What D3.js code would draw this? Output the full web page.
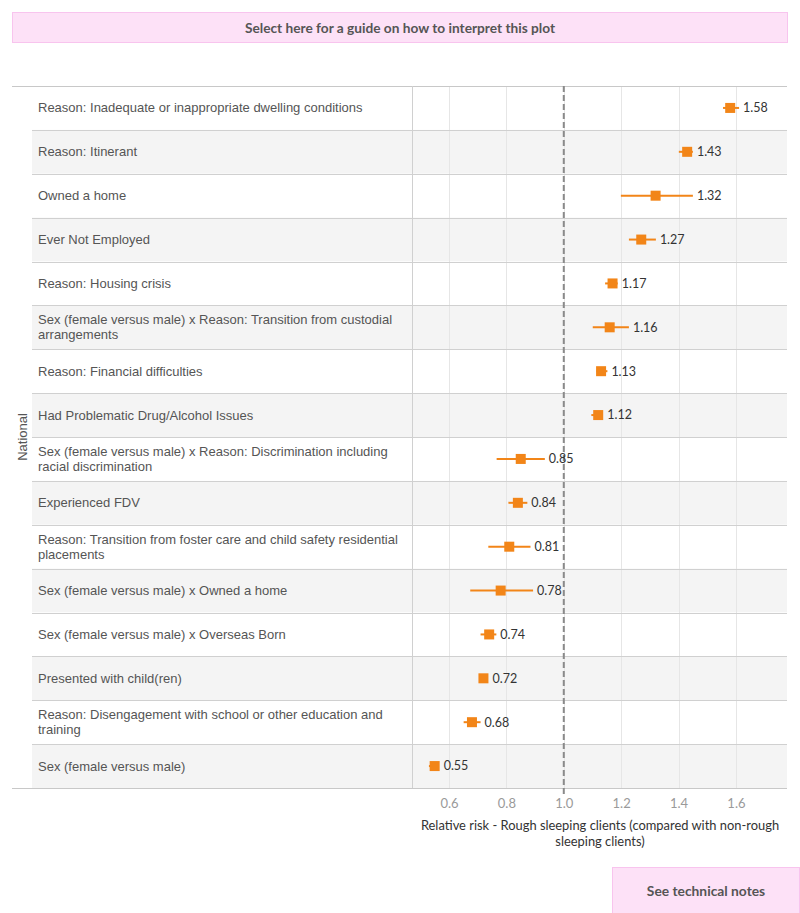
<!DOCTYPE html>
<html>
<head>
<meta charset="utf-8">
<script src="https://cdn.jsdelivr.net/npm/d3@7"></script>
<style>
  body { margin: 0; background: #fff; }
  svg { display: block; }
</style>
</head>
<body>
<svg class="chart"></svg>
<script>
const svgWidth = 800;
const svgHeight = 913;

// data, top row first
const categories = [
  "Reason: Inadequate or inappropriate dwelling conditions",
  "Reason: Itinerant",
  "Owned a home",
  "Ever Not Employed",
  "Reason: Housing crisis",
  "Sex (female versus male) x Reason: Transition from custodial arrangements",
  "Reason: Financial difficulties",
  "Had Problematic Drug/Alcohol Issues",
  "Sex (female versus male) x Reason: Discrimination including racial discrimination",
  "Experienced FDV",
  "Reason: Transition from foster care and child safety residential placements",
  "Sex (female versus male) x Owned a home",
  "Sex (female versus male) x Overseas Born",
  "Presented with child(ren)",
  "Reason: Disengagement with school or other education and training",
  "Sex (female versus male)"
];
const relRisk = [1.58, 1.43, 1.32, 1.27, 1.17, 1.16, 1.13, 1.12, 0.85, 0.84, 0.81, 0.78, 0.74, 0.72, 0.68, 0.55];
const ciLower = [1.555, 1.401, 1.199, 1.227, 1.144, 1.101, 1.114, 1.096, 0.766, 0.807, 0.737, 0.674, 0.710, 0.714, 0.651, 0.530];
const ciUpper = [1.611, 1.450, 1.450, 1.321, 1.188, 1.227, 1.152, 1.134, 0.934, 0.873, 0.884, 0.893, 0.765, 0.722, 0.710, 0.552];
const tickValues = [0.6, 0.8, 1.0, 1.2, 1.4, 1.6];
const groupLabel = "National";

const data = categories.map(function(c, i) {
  return { name: c, value: relRisk[i], lo: ciLower[i], hi: ciUpper[i] };
});

var margin = { top: 86, bottom: 788, left: 12, rowLeft: 32, pane: 412, right: 787 };
var orange = "#f28518";

const svg = d3.select(".chart")
  .attr("width", svgWidth)
  .attr("height", svgHeight);

// guide button at top
svg.append("rect")
  .attr("x", 12.5).attr("y", 12.5)
  .attr("width", 775).attr("height", 30)
  .attr("fill", "#fde1f7")
  .attr("stroke", "#f8c4ee");
svg.append("text")
  .attr("x", 400).attr("y", 28)
  .attr("dy", "0.35em")
  .attr("text-anchor", "middle")
  .style("font-family", "Lato")
  .style("font-weight", "bold")
  .style("font-size", "13.7px")
  .attr("fill", "#555")
  .text("Select here for a guide on how to interpret this plot");

var y = d3.scaleBand()
  .domain(categories)
  .range([margin.top, margin.bottom]);

var x = d3.scaleLinear()
  .domain([0.471, 1.778])
  .range([margin.pane, margin.right]);

// row shading
svg.append("g")
  .selectAll("rect")
  .data(data)
  .join("rect")
    .attr("x", margin.rowLeft)
    .attr("y", function(d) { return y(d.name); })
    .attr("width", margin.right - margin.rowLeft)
    .attr("height", y.bandwidth())
    .attr("fill", function(d, i) { return i % 2 ? "#f4f4f4" : "#fff"; });

// vertical gridlines
svg.append("g")
  .selectAll("line")
  .data(tickValues)
  .join("line")
    .attr("x1", function(d) { return Math.round(x(d)) + 0.5; })
    .attr("x2", function(d) { return Math.round(x(d)) + 0.5; })
    .attr("y1", margin.top)
    .attr("y2", margin.bottom)
    .attr("stroke", "#e6e6e6");

// row separators
svg.append("g")
  .selectAll("line")
  .data(data.slice(1))
  .join("line")
    .attr("x1", margin.rowLeft)
    .attr("x2", margin.right)
    .attr("y1", function(d) { return Math.round(y(d.name)) + 0.5; })
    .attr("y2", function(d) { return Math.round(y(d.name)) + 0.5; })
    .attr("stroke", "#d0d0d0");

// top and bottom borders
[margin.top, margin.bottom].forEach(function(v) {
  svg.append("line")
    .attr("x1", margin.left).attr("x2", margin.right)
    .attr("y1", v + 0.5).attr("y2", v + 0.5)
    .attr("stroke", "#c8c8c8");
});

// divider between labels and pane
svg.append("line")
  .attr("x1", margin.pane + 0.5).attr("x2", margin.pane + 0.5)
  .attr("y1", margin.top).attr("y2", margin.bottom)
  .attr("stroke", "#d0d0d0");

// reference line at 1.0
svg.append("line")
  .attr("x1", x(1)).attr("x2", x(1))
  .attr("y1", margin.top).attr("y2", margin.bottom + 6)
  .attr("stroke", "#8a8a8a")
  .attr("stroke-width", 2)
  .attr("stroke-dasharray", "6,3");

// row labels, wrapped
var labels = svg.append("g")
  .selectAll("text")
  .data(data)
  .join("text")
    .attr("x", 38)
    .style("font-family", "'Liberation Sans', Arial, sans-serif")
    .style("font-size", "13px")
    .attr("fill", "#555");

labels.each(function(d) {
  var t = d3.select(this);
  var words = d.name.split(" ");
  var lines = [];
  var line = [];
  var tspan = t.append("tspan");
  words.forEach(function(w) {
    line.push(w);
    tspan.text(line.join(" "));
    if (tspan.node().getComputedTextLength() > 368 && line.length > 1) {
      line.pop();
      lines.push(line.join(" "));
      line = [w];
    }
  });
  lines.push(line.join(" "));
  tspan.remove();
  var cy = y(d.name) + y.bandwidth() / 2;
  var lh = 15;
  lines.forEach(function(l, i) {
    t.append("tspan")
      .attr("x", 38)
      .attr("y", cy + (i - (lines.length - 1) / 2) * lh)
      .attr("dy", "0.35em")
      .text(l);
  });
});

// group header
svg.append("text")
  .attr("transform", "translate(22," + ((margin.top + margin.bottom) / 2) + ") rotate(-90)")
  .attr("text-anchor", "middle")
  .attr("dy", "0.35em")
  .style("font-family", "'Liberation Sans', Arial, sans-serif")
  .style("font-size", "13px")
  .attr("fill", "#555")
  .text(groupLabel);

// confidence intervals
var marks = svg.append("g")
  .selectAll("g")
  .data(data)
  .join("g")
    .attr("transform", function(d) { return "translate(0," + (y(d.name) + y.bandwidth() / 2) + ")"; });

marks.append("line")
  .attr("x1", function(d) { return x(d.lo); })
  .attr("x2", function(d) { return x(d.hi); })
  .attr("stroke", orange)
  .attr("stroke-width", 2);

marks.append("rect")
  .attr("x", function(d) { return x(d.value) - 5; })
  .attr("y", -5)
  .attr("width", 10)
  .attr("height", 10)
  .attr("fill", orange);

marks.append("text")
  .attr("x", function(d) { return Math.max(x(d.hi), x(d.value) + 5) + 4; })
  .attr("dy", "0.35em")
  .style("font-family", "Lato")
  .style("font-size", "12.5px")
  .attr("fill", "#333")
  .text(function(d) { return d3.format(".2f")(d.value); });

// x axis
var xAxis = svg.append("g")
  .attr("transform", "translate(0," + (margin.bottom + 8) + ")")
  .call(d3.axisBottom(x).tickValues(tickValues).tickSize(0).tickFormat(d3.format(".1f")));
xAxis.select(".domain").remove();
xAxis.selectAll("text")
  .style("font-family", "Lato")
  .style("font-size", "13px")
  .attr("fill", "#9a9a9a");

var title = svg.append("text")
  .attr("text-anchor", "middle")
  .style("font-family", "Lato")
  .style("font-size", "12.9px")
  .attr("fill", "#333");
title.append("tspan").attr("x", 600).attr("y", 830)
  .text("Relative risk - Rough sleeping clients (compared with non-rough");
title.append("tspan").attr("x", 600).attr("y", 846)
  .text("sleeping clients)");

// technical notes button
svg.append("rect")
  .attr("x", 612.5).attr("y", 867.5)
  .attr("width", 187).attr("height", 46)
  .attr("fill", "#fde1f7")
  .attr("stroke", "#f8c4ee");
svg.append("text")
  .attr("x", 706).attr("y", 891)
  .attr("dy", "0.35em")
  .attr("text-anchor", "middle")
  .style("font-family", "Lato")
  .style("font-weight", "bold")
  .style("font-size", "13.8px")
  .attr("fill", "#555")
  .text("See technical notes");
</script>
</body>
</html>
